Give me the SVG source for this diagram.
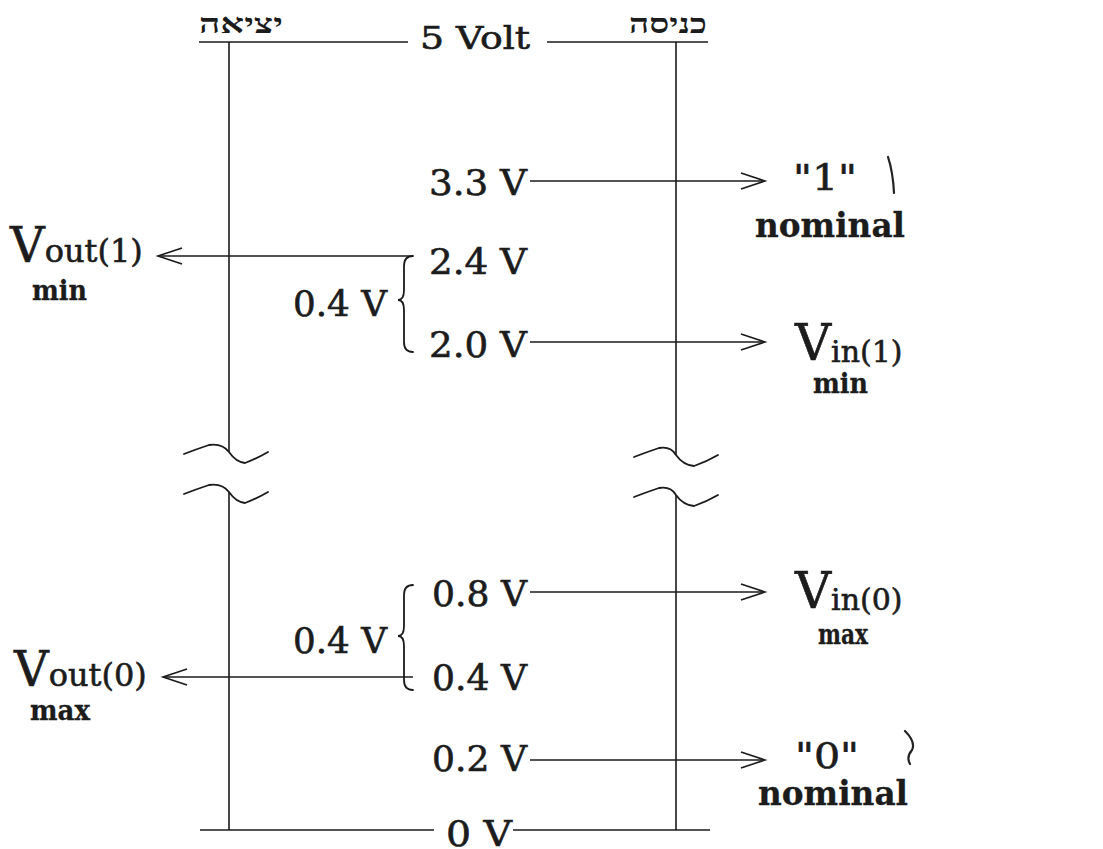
<svg xmlns="http://www.w3.org/2000/svg" width="1103" height="849" viewBox="0 0 1103 849">
<style>
  .t { font-family: "DejaVu Serif", "Liberation Serif", serif; fill: #1c1c1c; stroke: #1c1c1c; stroke-width: 0.6; }
  .n { font-size: 35px; }
  .b { font-weight: bold; stroke-width: 0.3; }
  .heb { font-family: "Liberation Serif", "DejaVu Serif", serif; font-size: 27px; font-weight: bold; fill: #1c1c1c; }
  .ln { stroke: #1a1a1a; stroke-width: 1.6; fill: none; }
  .br { stroke: #1a1a1a; stroke-width: 1.8; fill: none; stroke-linecap: round; }
  .hw { stroke: #222; stroke-width: 2.2; fill: none; stroke-linecap: round; stroke-linejoin: round; }
</style>
<defs>
  <marker id="ah" markerUnits="userSpaceOnUse" markerWidth="30" markerHeight="20" viewBox="-26 -10 30 20" refX="0" refY="0" orient="auto">
    <path d="M-24,-8 L0,0 L-24,8" stroke="#1a1a1a" stroke-width="1.6" fill="none"/>
  </marker>
</defs>
<rect width="1103" height="849" fill="#ffffff"/>

<!-- rails -->
<g id="rail-output">
  <text class="heb" x="241" y="33" text-anchor="middle" direction="rtl" textLength="84" lengthAdjust="spacingAndGlyphs">יציאה</text>
  <path class="ln" d="M229,42 V452"/>
  <path class="ln" d="M229,492 V830"/>
  <path class="br" d="M184,454 Q197,449 209,445 Q222,443 229,452 Q236,462 245,463 Q256,459 268,452"/>
  <path class="br" d="M184,494 Q197,489 209,485 Q222,483 229,492 Q236,502 245,503 Q256,499 268,492"/>
</g>
<g id="rail-input">
  <text class="heb" x="668" y="33" text-anchor="middle" direction="rtl" textLength="78" lengthAdjust="spacingAndGlyphs">כניסה</text>
  <path class="ln" d="M676,42 V455"/>
  <path class="ln" d="M676,495 V830"/>
  <path class="br" d="M634,457 Q647,452 659,448 Q671,446 676,455 Q683,465 694,466 Q706,462 718,455"/>
  <path class="br" d="M634,497 Q647,492 659,488 Q671,486 676,495 Q683,505 694,506 Q706,502 718,495"/>
</g>

<!-- supply levels -->
<g id="level-5v">
  <text class="t" x="420" y="49" font-size="31" textLength="110" lengthAdjust="spacingAndGlyphs">5 Volt</text>
</g>
<g id="level-0v">
  <text class="t n" x="446" y="846" textLength="66" lengthAdjust="spacingAndGlyphs">0 V</text>
</g>

<!-- voltage labels -->
<g id="level-3v3"><text class="t n" x="429" y="195" textLength="98" lengthAdjust="spacingAndGlyphs">3.3 V</text></g>
<g id="level-2v4"><text class="t n" x="429" y="274" textLength="98" lengthAdjust="spacingAndGlyphs">2.4 V</text></g>
<g id="level-2v0"><text class="t n" x="429" y="357" textLength="98" lengthAdjust="spacingAndGlyphs">2.0 V</text></g>
<g id="margin-high">
  <text class="t n" x="293" y="316" textLength="94" lengthAdjust="spacingAndGlyphs">0.4 V</text>
  <path class="br" d="M413,256 Q404,256 404,266 V290 Q404,300 398,300 Q404,300 404,310 V342 Q404,352 413,352"/>
</g>
<g id="level-0v8"><text class="t n" x="432" y="606" textLength="95" lengthAdjust="spacingAndGlyphs">0.8 V</text></g>
<g id="level-0v4"><text class="t n" x="432" y="690" textLength="95" lengthAdjust="spacingAndGlyphs">0.4 V</text></g>
<g id="level-0v2"><text class="t n" x="432" y="771" textLength="95" lengthAdjust="spacingAndGlyphs">0.2 V</text></g>
<g id="margin-low">
  <text class="t n" x="293" y="653" textLength="94" lengthAdjust="spacingAndGlyphs">0.4 V</text>
  <path class="br" d="M413,585 Q404,585 404,595 V626 Q404,636 398,636 Q404,636 404,646 V680 Q404,690 413,690"/>
</g>

<!-- targets -->
<g id="nominal-1">
  <text class="t" x="793" y="190" font-size="36" textLength="64" lengthAdjust="spacingAndGlyphs">"1"</text>
  <text class="t b" x="755" y="237" font-size="33" textLength="150" lengthAdjust="spacingAndGlyphs">nominal</text>
  <path class="hw" d="M888,157 Q893,172 894,193"/>
</g>
<g id="vout1-min">
  <text class="t" x="10" y="262"><tspan font-size="48">V</tspan><tspan font-size="32">out(1)</tspan></text>
  <text class="t b" x="32" y="300" font-size="27" textLength="55" lengthAdjust="spacingAndGlyphs">min</text>
</g>
<g id="vin1-min">
  <text class="t" x="795" y="360"><tspan font-size="50">V</tspan><tspan font-size="30" dy="2">in(1)</tspan></text>
  <text class="t b" x="813" y="393" font-size="27" textLength="55" lengthAdjust="spacingAndGlyphs">min</text>
</g>
<g id="vin0-max">
  <text class="t" x="795" y="608"><tspan font-size="50">V</tspan><tspan font-size="30" dy="2">in(0)</tspan></text>
  <text class="t b" x="818" y="644" font-size="27" textLength="50" lengthAdjust="spacingAndGlyphs">max</text>
</g>
<g id="vout0-max">
  <text class="t" x="14" y="686"><tspan font-size="48">V</tspan><tspan font-size="32">out(0)</tspan></text>
  <text class="t b" x="30" y="720" font-size="27" textLength="60" lengthAdjust="spacingAndGlyphs">max</text>
</g>
<g id="nominal-0">
  <text class="t" x="795" y="768" font-size="36" textLength="64" lengthAdjust="spacingAndGlyphs">"0"</text>
  <text class="t b" x="758" y="805" font-size="33" textLength="150" lengthAdjust="spacingAndGlyphs">nominal</text>
  <path class="hw" d="M905,731 Q916,742 912,750 Q906,757 910,764"/>
</g>

<!-- connectors -->
<g id="connectors">
  <path class="ln" d="M199,42 H408"/>
  <path class="ln" d="M547,42 H708"/>
  <path class="ln" d="M200,830 H434"/>
  <path class="ln" d="M513,830 H710"/>
  <path class="ln" d="M530,181 H765" marker-end="url(#ah)"/>
  <path class="ln" d="M413,256 H158" marker-end="url(#ah)"/>
  <path class="ln" d="M530,342 H765" marker-end="url(#ah)"/>
  <path class="ln" d="M530,592 H765" marker-end="url(#ah)"/>
  <path class="ln" d="M413,677 H163" marker-end="url(#ah)"/>
  <path class="ln" d="M530,760 H765" marker-end="url(#ah)"/>
</g>
</svg>
